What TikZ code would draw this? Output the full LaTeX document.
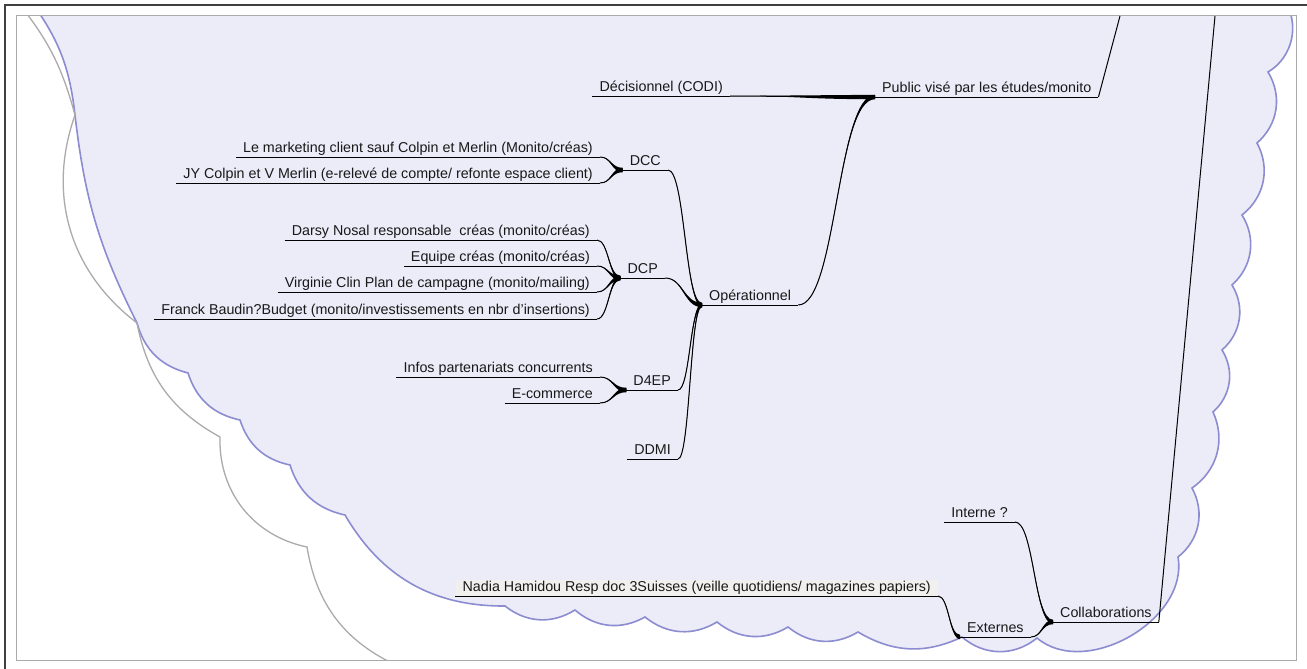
\documentclass[tikz,border=0pt]{standalone}
\usepackage{fontspec}
\setmainfont{Liberation Sans}
\usetikzlibrary{calc}
\definecolor{cloudfill}{RGB}{236,235,248}
\definecolor{cloudline}{RGB}{140,140,208}
\definecolor{shadowline}{RGB}{172,170,172}
\definecolor{framegray}{RGB}{170,170,170}
\definecolor{nadiabg}{RGB}{242,240,238}
\tikzset{
  topic/.style={
    font=\fontsize{14.3}{16}\selectfont,
    text=black!90,
    inner xsep=7pt,
    inner ysep=1pt,
    text height=10.5pt,
    text depth=3pt,
  },
  fork/.style={line width=1pt},
}
\newcommand\mapedge[3][2.2pt]{%
  \path (#2.south east) coordinate (ec);
  \path (#3.south west) coordinate (ep);
  \path ($(ec)!.5!(ep)$) coordinate (em);
  \fill (ec) .. controls (em |- ec) and ([yshift=#1]em |- ep) .. ([yshift=#1]ep)
    -- ([yshift=-#1]ep) .. controls ([yshift=-#1]em |- ep) and (em |- ec) .. (ec) -- cycle;
  \draw[fork] (ec) .. controls (em |- ec) and (em |- ep) .. (ep);
}

\begin{document}
\begin{tikzpicture}[x=1pt,y=-1pt]
  \useasboundingbox (0,0) rectangle (1307,669);
  \fill[white] (0,0) rectangle (1307,669);
  \begin{scope}
    \clip (16,16) rectangle (1296,660);
    \path[fill=cloudfill, draw=cloudline, line width=1.6pt]
      (30,0) to[bend left=15] (75,115) to[bend right=10] (137,323)
      to[bend right=30] (188,373) to[bend right=30] (240,420)
      to[bend right=30] (290,465) to[bend right=30] (345,515)
      to[bend right=30] (505,606) to[bend right=35] (575,610)
      to[bend right=35] (645,617) to[bend right=35] (717,622)
      to[bend right=35] (788,627) to[bend right=35] (858,632)
      to[bend right=28] (962,637) to[bend right=40] (1037,638)
      to[bend right=70] (1178,557) to[bend right=40] (1192,488)
      to[bend right=40] (1213,412) to[bend right=40] (1222,350)
      to[bend right=40] (1232,285) to[bend right=40] (1242,215)
      to[bend right=40] (1257,143) to[bend right=40] (1268,72)
      to[bend right=47] (1284,0) -- cycle;
    \draw[shadowline, line width=1.3pt]
      (16,0) to[bend left=12] (75,115) to[bend right=36] (137,323)
      to[bend right=25] (220,437) to[bend right=40] (307,547)
      to[bend right=28] (398,666);
  \end{scope}
  \draw[black!75, line width=2pt] (5,669) -- (5,5) -- (1307,5);
  \draw[framegray, line width=1pt] (16,16) rectangle (1296,660);

  \node[topic, anchor=south west] (pub) at (875,97) {Public visé par les études/monito};
  \node[topic, anchor=south east] (deci) at (730,96) {Décisionnel (CODI)};
  \node[topic, anchor=south west] (oper) at (702,305) {Opérationnel};
  \node[topic, anchor=south east] (dcc) at (668,170) {DCC};
  \node[topic, anchor=south east] (mkt) at (600,157) {Le marketing client sauf Colpin et Merlin (Monito/créas)};
  \node[topic, anchor=south east] (jy) at (600,183) {JY Colpin et V Merlin (e-relevé de compte/ refonte espace client)};
  \node[topic, anchor=south east] (dcp) at (665,278) {DCP};
  \node[topic, anchor=south east] (darsy) at (597,240) {Darsy Nosal responsable~ créas (monito/créas)};
  \node[topic, anchor=south east] (equipe) at (597,266) {Equipe créas (monito/créas)};
  \node[topic, anchor=south east] (virginie) at (597,292) {Virginie Clin Plan de campagne (monito/mailing)};
  \node[topic, anchor=south east] (franck) at (597,319) {Franck Baudin?Budget (monito/investissements en nbr d'insertions)};
  \node[topic, anchor=south east] (d4ep) at (678,390) {D4EP};
  \node[topic, anchor=south east] (infos) at (600,377) {Infos partenariats concurrents};
  \node[topic, anchor=south east] (ecom) at (600,403) {E-commerce};
  \node[topic, anchor=south east] (ddmi) at (678,459) {DDMI};
  \node[topic, anchor=south west] (collab) at (1053,622) {Collaborations};
  \node[topic, anchor=south east] (interne) at (1015,522) {Interne ?};
  \node[topic, anchor=south west] (externes) at (960,637) {Externes};
  \node[topic, anchor=south east, fill=nadiabg] (nadia) at (938,596) {Nadia Hamidou Resp doc 3Suisses (veille quotidiens/ magazines papiers)};

  \foreach \n in {pub,deci,oper,dcc,mkt,jy,dcp,darsy,equipe,virginie,franck,d4ep,infos,ecom,ddmi,collab,interne,externes,nadia}
    \draw[fork] (\n.south west) -- (\n.south east);

  \mapedge{deci}{pub}
  \mapedge{oper}{pub}
  \mapedge{mkt}{dcc}
  \mapedge{jy}{dcc}
  \mapedge{darsy}{dcp}
  \mapedge{equipe}{dcp}
  \mapedge{virginie}{dcp}
  \mapedge{franck}{dcp}
  \mapedge{dcc}{oper}
  \mapedge{dcp}{oper}
  \mapedge{d4ep}{oper}
  \mapedge{ddmi}{oper}
  \mapedge{infos}{d4ep}
  \mapedge{ecom}{d4ep}
  \mapedge{nadia}{externes}
  \mapedge{interne}{collab}
  \mapedge{externes}{collab}

  \coordinate (rootA) at (1120,16);
  \coordinate (rootB) at (1215,16);
  \draw[fork] (pub.south east) -- (rootA);
  \draw[fork] (collab.south east) -- (rootB);
\end{tikzpicture}
\end{document}
